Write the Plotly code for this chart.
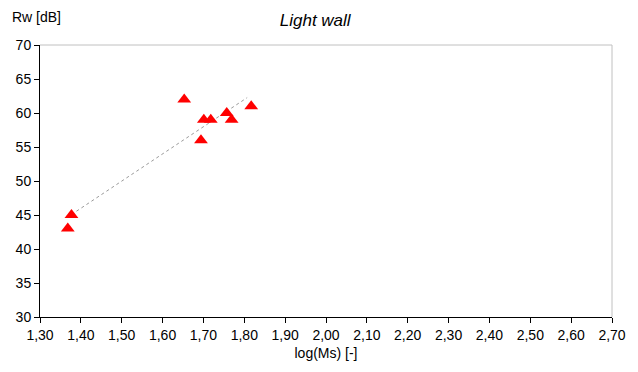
import numpy as np
import plotly.graph_objects as go

log_ms = [1.368, 1.377, 1.653, 1.694, 1.701, 1.718, 1.757, 1.769, 1.817]
rw_db = [43, 45, 62, 56, 59, 59, 60, 59, 61]
x_ticks = [1.3 + 0.1 * i for i in range(15)]
x_tick_labels = [f"{v:.2f}".replace(".", ",") for v in x_ticks]
y_ticks = [30, 35, 40, 45, 50, 55, 60, 65, 70]

coef = np.polyfit(log_ms, rw_db, 1)
tx = np.array([log_ms[1], 1.807])
ty = np.polyval(coef, tx)

fig = go.Figure()
fig.add_trace(go.Scatter(x=tx, y=ty, mode="lines",
                         line=dict(color="#999999", width=1, dash="dot"),
                         hoverinfo="skip", showlegend=False))
fig.add_trace(go.Scatter(x=log_ms, y=rw_db, mode="markers",
                         marker=dict(symbol="triangle-up", color="#ff0000", size=12,
                                     line=dict(width=0)),
                         showlegend=False))

font = dict(family="Liberation Sans, Arial, sans-serif", size=14, color="#000000")
fig.update_layout(
    width=638, height=372,
    margin=dict(l=40, r=19, t=45, b=55),
    paper_bgcolor="white", plot_bgcolor="white",
    font=font,
    title=dict(text="<i>Light wall</i>", x=0.494, xanchor="center", y=0.945, yanchor="middle",
               font=dict(family="Liberation Sans, Arial, sans-serif", size=17, color="#000")),
    xaxis=dict(range=[1.3, 2.7], tickvals=x_ticks, ticktext=x_tick_labels,
               showgrid=False, zeroline=False, showline=True, linecolor="#000", linewidth=1,
               ticks="outside", ticklen=5, tickcolor="#000",
               title=dict(text="log(Ms) [-]", font=font, standoff=6)),
    yaxis=dict(range=[30, 70], tickvals=y_ticks,
               showgrid=False, zeroline=False, showline=True, linecolor="#000", linewidth=1,
               ticks="outside", ticklen=5, tickcolor="#000"),
    annotations=[dict(text="Rw [dB]", x=-30/579, y=1 + 28/272, xref="paper", yref="paper",
                      xanchor="left", yanchor="middle", showarrow=False, font=font)],
    shapes=[
        dict(type="line", xref="paper", yref="paper", x0=0, x1=1, y0=1, y1=1,
             line=dict(color="#c0c0c0", width=1)),
        dict(type="line", xref="paper", yref="paper", x0=1, x1=1, y0=0, y1=1,
             line=dict(color="#c0c0c0", width=1)),
    ],
)
fig.write_html("out.html")
